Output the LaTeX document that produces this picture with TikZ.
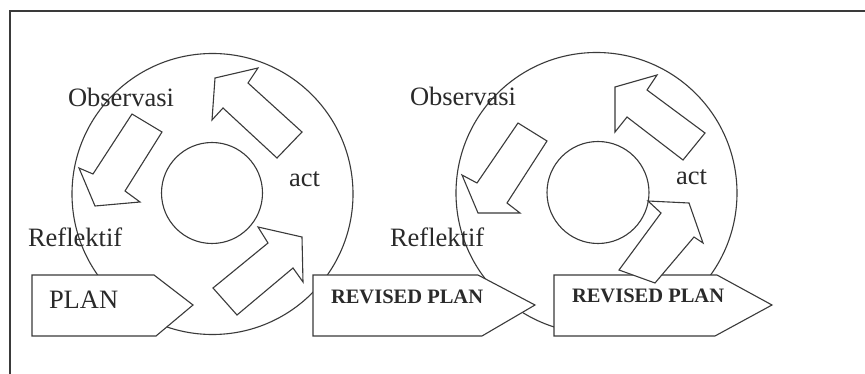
\documentclass[tikz,border=0pt]{standalone}
\usepackage{fontspec}
\setmainfont{Liberation Serif}
\definecolor{linec}{HTML}{3A3A3A}
\definecolor{txtc}{HTML}{2A2A2A}
\begin{document}
\begin{tikzpicture}[x=1pt,y=-1pt,
  outline/.style={draw=linec,line width=1.1pt,fill=white,line join=miter},
  ring/.style={draw=linec,line width=1.1pt},
  lbl/.style={anchor=base west,inner sep=0pt,outer sep=0pt,text=txtc,font=\fontsize{26.5}{30}\selectfont},
  blbl/.style={anchor=base west,inner sep=0pt,outer sep=0pt,text=txtc,font=\bfseries\fontsize{20.5}{24}\selectfont}]
\useasboundingbox (0,0) rectangle (865,374);
\fill[white] (0,0) rectangle (865,374);
% frame
\draw[linec,line width=2.6pt] (10,374) -- (10,11) -- (865,11);
% cycle 1 circles
\coordinate (c1) at (212.5,194);
\coordinate (c2) at (596.5,193);
\draw[ring] (c1) circle[radius=140.5];
\draw[ring] (212,193) circle[radius=50.5];
% cycle 2 circles
\draw[ring] (c2) circle[radius=140.5];
\draw[ring] (598,192.5) circle[radius=51];
% plan boxes
\draw[outline] (32,275) -- (154,275) -- (193,305) -- (156,336) -- (32,336) -- cycle;
\draw[outline] (313,275) -- (478,275) -- (535,305) -- (482,336) -- (313,336) -- cycle;
\draw[outline] (554,275) -- (717,275) -- (772,305) -- (715,336) -- (554,336) -- cycle;
% block arrows cycle 1
\draw[outline] (132,114) -- (162,132) -- (125,191) -- (140,202) -- (95,206) -- (79,168) -- (93,174) -- cycle;
\draw[outline] (215,78) -- (258,68) -- (248,83) -- (302,132) -- (277,158) -- (223,108) -- (212,120) -- cycle;
\draw[outline] (258,227) -- (302,237) -- (303,282) -- (293,268) -- (237,315) -- (213,288) -- (268,243) -- cycle;
% block arrows cycle 2
\draw[outline] (518,123) -- (547,141) -- (507,203) -- (520,213) -- (478,213) -- (462,175) -- (477,183) -- cycle;
\draw[outline] (615,87) -- (657,75) -- (647,90) -- (705,133) -- (683,160) -- (627,117) -- (615,132) -- cycle;
\draw[outline] (648,201) -- (689,203) -- (703,243) -- (694,237) -- (655,283) -- (619,270) -- (661,213) -- cycle;
% labels
\node[lbl] (obs1) at (68,107) {Observasi};
\node[lbl] (ref1) at (28,247) {Reflektif};
\node[lbl] (act1) at (289,187) {act};
\node[lbl] (plan) at (49,308) {PLAN};
\node[blbl] (rp1) at (331,303) {REVISED PLAN};
\node[lbl] (obs2) at (410,106) {Observasi};
\node[lbl] (ref2) at (390,247) {Reflektif};
\node[lbl] (act2) at (676,185) {act};
\node[blbl] (rp2) at (572,302) {REVISED PLAN};
\end{tikzpicture}
\end{document}
